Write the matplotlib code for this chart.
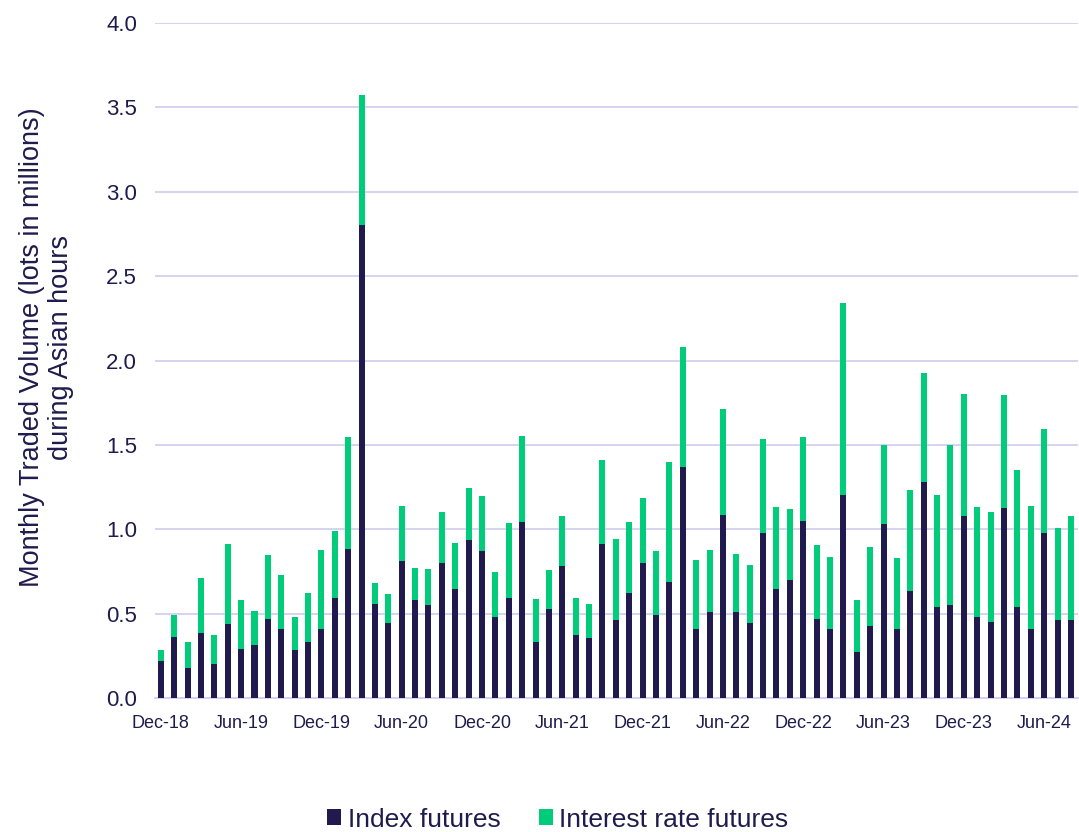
import matplotlib
matplotlib.use("Agg")
import matplotlib.pyplot as plt
import numpy as np

plt.rcParams['font.family'] = ['Liberation Sans', 'DejaVu Sans']

# months Dec-18 .. Aug-24
months = ['Dec-18', 'Jan-19', 'Feb-19', 'Mar-19', 'Apr-19', 'May-19', 'Jun-19', 'Jul-19', 'Aug-19', 'Sep-19', 'Oct-19', 'Nov-19',
          'Dec-19', 'Jan-20', 'Feb-20', 'Mar-20', 'Apr-20', 'May-20', 'Jun-20', 'Jul-20', 'Aug-20', 'Sep-20', 'Oct-20', 'Nov-20',
          'Dec-20', 'Jan-21', 'Feb-21', 'Mar-21', 'Apr-21', 'May-21', 'Jun-21', 'Jul-21', 'Aug-21', 'Sep-21', 'Oct-21', 'Nov-21',
          'Dec-21', 'Jan-22', 'Feb-22', 'Mar-22', 'Apr-22', 'May-22', 'Jun-22', 'Jul-22', 'Aug-22', 'Sep-22', 'Oct-22', 'Nov-22',
          'Dec-22', 'Jan-23', 'Feb-23', 'Mar-23', 'Apr-23', 'May-23', 'Jun-23', 'Jul-23', 'Aug-23', 'Sep-23', 'Oct-23', 'Nov-23',
          'Dec-23', 'Jan-24', 'Feb-24', 'Mar-24', 'Apr-24', 'May-24', 'Jun-24', 'Jul-24', 'Aug-24']

index_futures = [0.22, 0.36, 0.18, 0.385, 0.20, 0.44, 0.29, 0.315, 0.47, 0.41, 0.285, 0.335,
                 0.41, 0.59, 0.885, 2.80, 0.56, 0.445, 0.81, 0.58, 0.55, 0.80, 0.645, 0.935,
                 0.87, 0.48, 0.59, 1.045, 0.335, 0.525, 0.78, 0.375, 0.355, 0.915, 0.46, 0.62,
                 0.80, 0.495, 0.685, 1.37, 0.41, 0.51, 1.085, 0.51, 0.445, 0.98, 0.645, 0.70,
                 1.05, 0.47, 0.41, 1.205, 0.275, 0.425, 1.03, 0.41, 0.635, 1.28, 0.54, 0.55,
                 1.08, 0.48, 0.45, 1.125, 0.54, 0.41, 0.975, 0.46, 0.46]

total_volume = [0.285, 0.49, 0.33, 0.71, 0.375, 0.91, 0.58, 0.515, 0.85, 0.73, 0.48, 0.625,
                0.88, 0.99, 1.545, 3.575, 0.68, 0.615, 1.14, 0.77, 0.765, 1.10, 0.92, 1.245,
                1.20, 0.745, 1.04, 1.555, 0.585, 0.76, 1.08, 0.59, 0.56, 1.41, 0.945, 1.045,
                1.185, 0.87, 1.40, 2.08, 0.82, 0.875, 1.71, 0.855, 0.79, 1.535, 1.13, 1.12,
                1.545, 0.905, 0.835, 2.34, 0.58, 0.895, 1.50, 0.83, 1.235, 1.925, 1.205, 1.50,
                1.80, 1.13, 1.10, 1.795, 1.35, 1.135, 1.595, 1.01, 1.08]

ir_futures = [round(t - i, 3) for t, i in zip(total_volume, index_futures)]

navy = '#211a4f'
green = '#00cc7a'
text_c = '#1f1b4d'
grid_c = '#d3cff0'

fig = plt.figure(figsize=(10.79, 8.32), dpi=100)
ax = fig.add_axes([0.1437, 0.161, 0.855, 0.8114])

x = np.arange(len(months))
ax.bar(x, index_futures, width=0.45, color=navy, label='Index futures', zorder=3)
ax.bar(x, ir_futures, width=0.45, bottom=index_futures, color=green, label='Interest rate futures', zorder=3)

ax.set_ylim(0, 4.0)
ax.set_xlim(-0.43, len(months) - 0.5)
ax.set_yticks(np.arange(0, 4.01, 0.5))
ax.set_yticklabels([f'{v:.1f}' for v in np.arange(0, 4.01, 0.5)])
ax.set_xticks(x[::6])
ax.set_xticklabels(months[::6])

ax.grid(axis='y', color=grid_c, linewidth=1.3, zorder=0)
for s in ['top', 'right', 'left']:
    ax.spines[s].set_visible(False)
ax.spines['bottom'].set_color(grid_c)
ax.spines['bottom'].set_linewidth(1.3)

ax.tick_params(axis='y', length=0, pad=13, labelsize=16, labelcolor=text_c)
ax.tick_params(axis='x', length=0, pad=12, labelsize=13, labelcolor=text_c)

ax.set_ylabel('Monthly Traded Volume (lots in millions)\nduring Asian hours',
              fontsize=19.5, color=text_c, linespacing=1.15)
ax.yaxis.set_label_coords(-0.088, 0.52)

leg = fig.legend(loc='lower center', bbox_to_anchor=(0.517, -0.028), ncol=2, frameon=False,
                 fontsize=19, handlelength=0.53, handleheight=0.53, handletextpad=0.25, columnspacing=1.45)
for t in leg.get_texts():
    t.set_color(text_c)

fig.savefig('out.png', dpi=100)
